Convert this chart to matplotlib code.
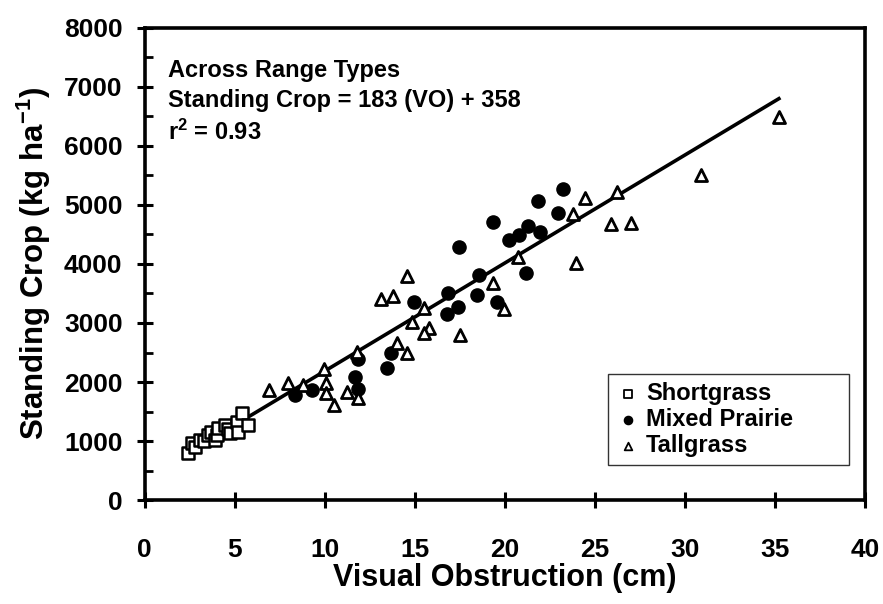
import matplotlib
matplotlib.use("Agg")
import matplotlib.pyplot as plt
from matplotlib.ticker import MultipleLocator
import numpy as np

plt.rcParams['font.family'] = ['Liberation Sans', 'DejaVu Sans']
plt.rcParams['font.weight'] = 'bold'
plt.rcParams['mathtext.fontset'] = 'custom'
plt.rcParams['mathtext.bf'] = 'Liberation Sans:bold'
plt.rcParams['mathtext.rm'] = 'Liberation Sans:bold'
plt.rcParams['mathtext.default'] = 'bf'

# data
short_vo = [2.39, 2.61, 2.8, 3.06, 3.3, 3.5, 3.7, 3.89, 4.0, 4.06, 4.44, 4.6, 4.72, 5.11, 5.17, 5.39, 5.72]
short_sc = [797, 966, 900, 1017, 1000, 1102, 1150, 1017, 1100, 1220, 1271, 1200, 1136, 1322, 1153, 1475, 1271]

mixed_vo = [23.22, 21.83, 22.94, 19.33, 21.28, 20.78, 21.94, 20.22, 17.44, 21.17, 18.56, 16.83,
            18.44, 14.94, 19.56, 17.39, 16.78, 13.67, 11.83, 13.44, 11.67, 11.83, 8.33, 9.28]
mixed_sc = [5271, 5068, 4864, 4712, 4644, 4492, 4542, 4407, 4288, 3847, 3814, 3508,
            3475, 3356, 3356, 3271, 3153, 2492, 2390, 2237, 2085, 1881, 1780, 1864]

tall_vo = [6.89, 7.94, 8.8, 9.94, 10.06, 10.06, 10.5, 11.22, 11.83, 11.78, 14.0, 14.56, 13.11, 13.78,
           14.56, 15.5, 15.78, 15.5, 17.5, 19.33, 19.94, 14.83, 20.72, 23.78, 23.94, 24.44,
           26.22, 25.89, 27.0, 30.89, 35.22]
tall_sc = [1864, 1983, 1950, 2220, 1983, 1814, 1610, 1831, 1729, 2508, 2661, 2492, 3407, 3458,
           3797, 3254, 2915, 2831, 2797, 3678, 3237, 3017, 4119, 4847, 4017, 5119,
           5220, 4678, 4695, 5508, 6492]

slope = 183
intercept = 358
fit_range = [2.4, 35.2]

fig = plt.figure(figsize=(8.83, 6.04), dpi=100)
ax = fig.add_axes([0.164, 0.172, 0.816, 0.782])

fx = np.array(fit_range)
ax.plot(fx, slope * fx + intercept, color='black', lw=2.6, zorder=2)

ax.scatter(short_vo, short_sc, marker='s', s=75, facecolors='white', edgecolors='black', linewidths=1.8, zorder=3)
ax.scatter(mixed_vo, mixed_sc, marker='o', s=90, color='black', zorder=3)
ax.scatter(tall_vo, tall_sc, marker='^', s=75, facecolors='white', edgecolors='black', linewidths=2.0, zorder=3)

# legend proxies
h1 = ax.scatter([], [], marker='s', s=30, facecolors='white', edgecolors='black', linewidths=1.3)
h2 = ax.scatter([], [], marker='o', s=35, color='black')
h3 = ax.scatter([], [], marker='^', s=30, facecolors='white', edgecolors='black', linewidths=1.3)
leg = ax.legend([h1, h2, h3], ['Shortgrass', 'Mixed Prairie', 'Tallgrass'],
                loc='lower left', bbox_to_anchor=(0.643, 0.074, 0.335, 0.2), mode='expand',
                borderaxespad=0, fancybox=False, prop={'size': 17, 'weight': 'bold'},
                handletextpad=0.25, borderpad=0.35, labelspacing=0.12, handlelength=1.0)
leg.get_frame().set_edgecolor('black')
leg.get_frame().set_linewidth(1.0)

ax.set_xlim(0, 40)
ax.set_ylim(0, 8000)
ax.xaxis.set_major_locator(MultipleLocator(5))
ax.yaxis.set_major_locator(MultipleLocator(1000))
ax.yaxis.set_minor_locator(MultipleLocator(500))
ax.tick_params(axis='both', which='major', direction='inout', length=12, width=2.2, labelsize=19)
ax.tick_params(axis='x', which='major', pad=21)
ax.tick_params(axis='y', which='major', pad=10)
ax.tick_params(axis='y', which='minor', direction='in', length=6, width=2.0)
for lab in ax.get_xticklabels() + ax.get_yticklabels():
    lab.set_fontweight('bold')
for sp in ax.spines.values():
    sp.set_linewidth(2.6)

ax.set_xlabel('Visual Obstruction (cm)', fontsize=22, fontweight='bold', labelpad=1)
ax.set_ylabel(r'Standing Crop (kg ha$^{-1}$)', fontsize=22.5, fontweight='bold', labelpad=8)

ax.text(0.032, 0.909, 'Across Range Types', transform=ax.transAxes, fontsize=17, fontweight='bold', va='center')
ax.text(0.032, 0.845, 'Standing Crop = 183 (VO) + 358', transform=ax.transAxes, fontsize=17, fontweight='bold', va='center')
ax.text(0.032, 0.778, r'r$^2$ = 0.93', transform=ax.transAxes, fontsize=17, fontweight='bold', va='center')

fig.savefig('out.png', dpi=100)
